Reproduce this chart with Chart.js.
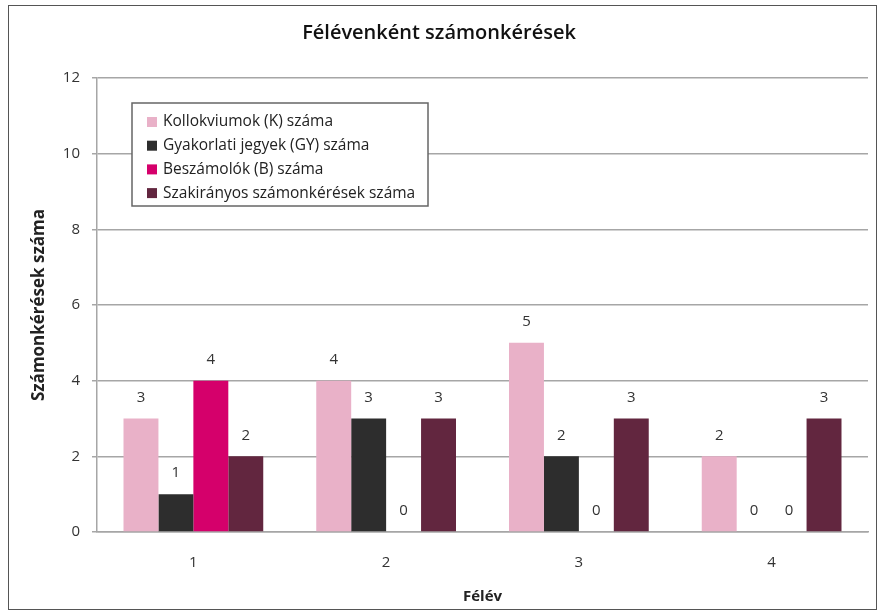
<!DOCTYPE html>
<html>
<head>
<meta charset="utf-8">
<script src="https://cdn.jsdelivr.net/npm/chart.js@4/dist/chart.umd.min.js"></script>
<style>
  html, body { margin: 0; padding: 0; background: #fff; }
  #wrap { position: relative; width: 882px; height: 616px; }
  #frame { position: absolute; left: 8px; top: 5px; width: 869px; height: 605px; border: 1px solid #555; box-sizing: border-box; pointer-events: none; }
</style>
</head>
<body>
<div id="wrap">
  <canvas id="semChart" width="882" height="616"></canvas>
  <div id="frame"></div>
</div>
<script>
// adatok a kepről
var semesters = ['1', '2', '3', '4'];
var seriesNames = ['Kollokviumok (K) száma', 'Gyakorlati jegyek (GY) száma', 'Beszámolók (B) száma', 'Szakirányos számonkérések száma'];
var kollokviumok = [3, 4, 5, 2];
var gyakorlati = [1, 3, 2, 0];
var beszamolok = [4, 0, 0, 0];
var szakiranyos = [2, 3, 3, 3];
var yMax = 12;
var yStep = 2;

var seriesColors = ['#e9b1c8', '#2d2d2d', '#d5006b', '#62263f'];
var fontName = "'Open Sans', sans-serif";

// ertekek a oszlopok felett
var valueLabels = {
    id: 'valueLabels',
    afterDatasetsDraw: function (chart) {
        var ctx = chart.ctx;
        ctx.save();
        ctx.font = '15px ' + fontName;
        ctx.fillStyle = '#333';
        ctx.textAlign = 'center';
        ctx.textBaseline = 'middle';
        chart.data.datasets.forEach(function (ds, i) {
            var meta = chart.getDatasetMeta(i);
            meta.data.forEach(function (bar, j) {
                ctx.fillText(ds.data[j], bar.x, bar.y - 21);
            });
        });
        ctx.restore();
    }
};

// jelmagyarazat a rajzteruleten belul, keretben
var boxLegend = {
    id: 'boxLegend',
    afterDraw: function (chart) {
        var ctx = chart.ctx;
        var x = 132, y = 103, w = 296, h = 103;
        ctx.save();
        ctx.fillStyle = '#fff';
        ctx.fillRect(x, y, w, h);
        ctx.strokeStyle = '#666';
        ctx.lineWidth = 1.5;
        ctx.strokeRect(x, y, w, h);
        ctx.font = '15.5px ' + fontName;
        ctx.textBaseline = 'middle';
        chart.data.datasets.forEach(function (ds, i) {
            var rowY = y + 19 + i * 23.7;
            ctx.fillStyle = ds.backgroundColor;
            ctx.fillRect(x + 15, rowY - 5, 10, 10);
            ctx.fillStyle = '#222';
            ctx.fillText(ds.label, x + 31, rowY);
        });
        ctx.restore();
    }
};

var datasets = [kollokviumok, gyakorlati, beszamolok, szakiranyos].map(function (vals, i) {
    return {
        label: seriesNames[i],
        data: vals,
        backgroundColor: seriesColors[i],
        categoryPercentage: 0.725,
        barPercentage: 1.0
    };
});

var semChart = new Chart(document.getElementById('semChart').getContext('2d'), {
    type: 'bar',
    data: {
        labels: semesters,
        datasets: datasets
    },
    options: {
        responsive: false,
        animation: false,
        layout: { padding: { left: 10, right: 14, top: 10, bottom: 8 } },
        plugins: {
            legend: { display: false },
            tooltip: { enabled: false },
            title: {
                display: true,
                text: 'Félévenként számonkérések',
                color: '#111',
                font: { family: fontName, size: 20, weight: '600' },
                padding: { top: 11, bottom: 33 }
            }
        },
        scales: {
            x: {
                grid: { display: false, drawTicks: false },
                border: { display: true, color: '#a6a6a6', width: 1.5 },
                ticks: { color: '#333', font: { family: fontName, size: 15 }, padding: 22 },
                title: {
                    display: true,
                    text: 'Félév',
                    color: '#222',
                    font: { family: fontName, size: 15, weight: 'bold' },
                    padding: { top: 0, bottom: 2 }
                },
                afterFit: function (s) { s.height = 616 - 8 - 532; }
            },
            y: {
                min: 0,
                max: yMax,
                ticks: { stepSize: yStep, color: '#333', font: { family: fontName, size: 15 }, padding: 12 },
                grid: { color: '#a6a6a6', lineWidth: 1.5, tickLength: 5 },
                border: { display: true, color: '#a6a6a6', width: 1.5 },
                title: {
                    display: true,
                    text: 'Számonkérések száma',
                    color: '#222',
                    font: { family: fontName, size: 17, weight: 'bold' },
                    padding: { top: 19, bottom: 0 }
                },
                afterFit: function (s) { s.width = 97 - 10; }
            }
        }
    },
    plugins: [valueLabels, boxLegend]
});
</script>
</body>
</html>
